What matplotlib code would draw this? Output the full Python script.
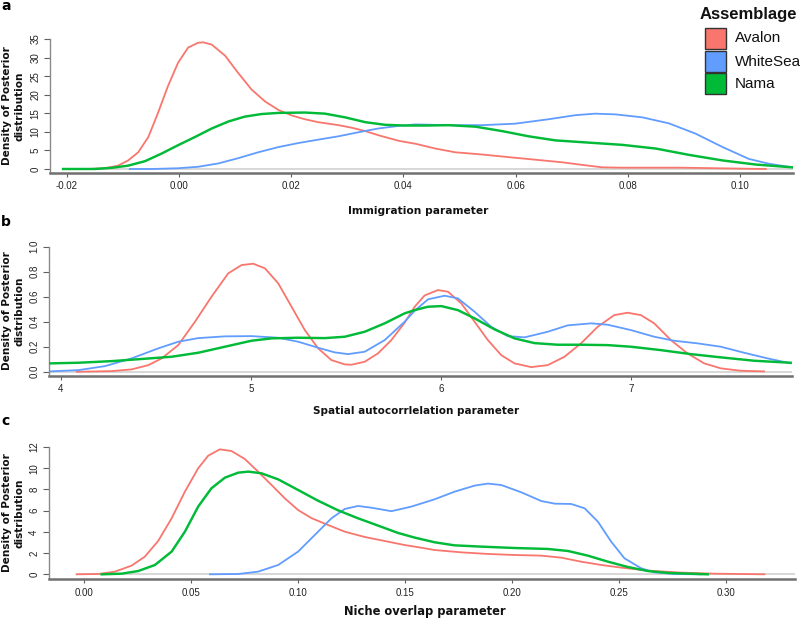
import matplotlib
matplotlib.use('Agg')
import matplotlib.pyplot as plt
from matplotlib.patches import Rectangle

# ---------------- data ----------------
groups = ['Avalon', 'WhiteSea', 'Nama']
group_colors = ['#F8766D', '#619CFF', '#00BA38']

# Panel a: Immigration parameter
a_avalon_x = [-0.0163, -0.0133, -0.0109, -0.0091, -0.0073, -0.0055, -0.0038, -0.0020, -0.0002, 0.0016,
              0.0034, 0.0043, 0.0058, 0.0082, 0.0105, 0.0129, 0.0153, 0.0177, 0.0201, 0.0224,
              0.0248, 0.0284, 0.0308, 0.0332, 0.0355, 0.0391, 0.0421, 0.0457, 0.0492, 0.0540,
              0.0587, 0.0635, 0.0683, 0.0719, 0.0754, 0.0790, 0.0838, 0.0897, 0.0957, 0.1046]
a_avalon_y = [0.0, 0.2, 0.9, 2.3, 4.5, 8.6, 15.0, 22.3, 28.6, 32.7,
              34.0, 34.1, 33.5, 30.5, 25.9, 21.4, 18.2, 15.9, 14.4, 13.4,
              12.6, 11.8, 11.1, 10.2, 9.1, 7.6, 6.8, 5.5, 4.5, 3.9,
              3.2, 2.5, 1.8, 1.1, 0.45, 0.35, 0.35, 0.35, 0.2, 0.0]
a_whitesea_x = [-0.0088, -0.0049, -0.0002, 0.0034, 0.0070, 0.0105, 0.0141, 0.0177, 0.0213, 0.0248,
                0.0284, 0.0320, 0.0355, 0.0391, 0.0421, 0.0480, 0.0540, 0.0599, 0.0659, 0.0707,
                0.0742, 0.0778, 0.0826, 0.0873, 0.0921, 0.0969, 0.1016, 0.1052, 0.1093]
a_whitesea_y = [0.0, 0.0, 0.2, 0.6, 1.5, 2.9, 4.5, 5.9, 7.0, 7.9,
                8.8, 9.9, 10.9, 11.6, 12.0, 11.8, 11.8, 12.2, 13.4, 14.5,
                14.9, 14.7, 13.9, 12.3, 9.5, 5.9, 2.7, 1.4, 0.45]
a_nama_x = [-0.0207, -0.0151, -0.0121, -0.0091, -0.0061, -0.0032, -0.0002, 0.0028, 0.0058, 0.0088,
            0.0117, 0.0147, 0.0177, 0.0224, 0.0260, 0.0296, 0.0332, 0.0367, 0.0403, 0.0440,
            0.0480, 0.0528, 0.0576, 0.0623, 0.0671, 0.0730, 0.0790, 0.0850, 0.0909, 0.0969,
            0.1028, 0.1093]
a_nama_y = [0.0, 0.0, 0.3, 0.9, 2.1, 4.1, 6.4, 8.6, 10.9, 12.8,
            14.1, 14.8, 15.1, 15.2, 14.9, 13.9, 12.6, 11.9, 11.7, 11.7,
            11.8, 11.4, 10.2, 8.8, 7.7, 7.1, 6.5, 5.5, 3.8, 2.3,
            1.2, 0.45]

# Panel b: Spatial autocorrelation parameter
b_avalon_x = [4.084, 4.268, 4.373, 4.461, 4.531, 4.618, 4.706, 4.793, 4.881, 4.951,
              5.012, 5.074, 5.144, 5.214, 5.284, 5.354, 5.424, 5.494, 5.529, 5.599,
              5.669, 5.739, 5.809, 5.862, 5.914, 5.984, 6.037, 6.107, 6.177, 6.247,
              6.317, 6.387, 6.475, 6.562, 6.650, 6.737, 6.825, 6.912, 6.982, 7.052,
              7.122, 7.210, 7.297, 7.385, 7.473, 7.578, 7.700]
b_avalon_y = [0.0, 0.005, 0.019, 0.053, 0.107, 0.213, 0.40, 0.60, 0.787, 0.853,
              0.864, 0.827, 0.707, 0.52, 0.333, 0.187, 0.093, 0.059, 0.056, 0.08,
              0.147, 0.253, 0.392, 0.52, 0.61, 0.653, 0.64, 0.547, 0.40, 0.253,
              0.133, 0.067, 0.037, 0.053, 0.12, 0.227, 0.36, 0.453, 0.472, 0.453,
              0.387, 0.253, 0.147, 0.067, 0.027, 0.008, 0.003]
b_whitesea_x = [3.944, 4.093, 4.233, 4.373, 4.513, 4.618, 4.723, 4.863, 5.003, 5.144,
                5.249, 5.354, 5.441, 5.511, 5.599, 5.704, 5.809, 5.862, 5.932, 6.019,
                6.089, 6.177, 6.264, 6.352, 6.440, 6.562, 6.667, 6.790, 6.877, 7.000,
                7.122, 7.227, 7.350, 7.473, 7.595, 7.718, 7.840]
b_whitesea_y = [0.003, 0.013, 0.045, 0.107, 0.187, 0.24, 0.269, 0.283, 0.285, 0.272,
                0.24, 0.192, 0.155, 0.141, 0.16, 0.253, 0.40, 0.488, 0.579, 0.608,
                0.587, 0.48, 0.36, 0.285, 0.275, 0.32, 0.371, 0.387, 0.376, 0.333,
                0.28, 0.248, 0.227, 0.20, 0.152, 0.107, 0.067]
b_nama_x = [3.944, 4.093, 4.268, 4.443, 4.583, 4.723, 4.863, 5.003, 5.109, 5.249,
            5.389, 5.494, 5.599, 5.704, 5.809, 5.862, 5.932, 6.002, 6.089, 6.177,
            6.282, 6.387, 6.492, 6.615, 6.737, 6.877, 7.000, 7.157, 7.315, 7.473,
            7.648, 7.840]
b_nama_y = [0.067, 0.072, 0.085, 0.104, 0.12, 0.152, 0.20, 0.248, 0.267, 0.272,
            0.269, 0.28, 0.32, 0.387, 0.467, 0.493, 0.52, 0.525, 0.493, 0.427,
            0.339, 0.267, 0.229, 0.216, 0.216, 0.213, 0.20, 0.173, 0.141, 0.115,
            0.088, 0.072]

# Panel c: Niche overlap parameter
c_avalon_x = [-0.0036, 0.0065, 0.0143, 0.0221, 0.0283, 0.0345, 0.0408, 0.0470, 0.0532, 0.0579,
              0.0633, 0.0688, 0.0750, 0.0812, 0.0875, 0.0937, 0.0999, 0.1061, 0.1139, 0.1217,
              0.1310, 0.1404, 0.1497, 0.1544, 0.1637, 0.1762, 0.1886, 0.2010, 0.2135, 0.2229,
              0.2322, 0.2416, 0.2509, 0.2634, 0.2790, 0.2944, 0.3178]
c_avalon_y = [0.0, 0.03, 0.25, 0.82, 1.67, 3.14, 5.28, 7.79, 9.99, 11.18,
              11.78, 11.62, 10.87, 9.68, 8.42, 7.16, 6.06, 5.3, 4.65, 4.02,
              3.52, 3.14, 2.76, 2.61, 2.29, 2.07, 1.92, 1.82, 1.76, 1.57,
              1.19, 0.88, 0.63, 0.35, 0.16, 0.06, 0.0]
c_whitesea_x = [0.0587, 0.0719, 0.0812, 0.0906, 0.0999, 0.1077, 0.1155, 0.1217, 0.1279, 0.1341,
                0.1435, 0.1528, 0.1637, 0.1730, 0.1824, 0.1886, 0.1948, 0.2042, 0.2135, 0.2198,
                0.2275, 0.2338, 0.2400, 0.2462, 0.2524, 0.2602, 0.2664, 0.2758, 0.2882]
c_whitesea_y = [0.0, 0.03, 0.25, 0.88, 2.14, 3.71, 5.28, 6.16, 6.44, 6.28,
                5.95, 6.38, 7.07, 7.79, 8.36, 8.55, 8.42, 7.73, 6.91, 6.66,
                6.63, 6.22, 4.96, 3.08, 1.51, 0.57, 0.19, 0.03, 0.0]
c_nama_x = [0.0081, 0.0174, 0.0252, 0.0330, 0.0408, 0.0470, 0.0532, 0.0594, 0.0657, 0.0719,
            0.0766, 0.0828, 0.0906, 0.0999, 0.1092, 0.1186, 0.1279, 0.1373, 0.1466, 0.1544,
            0.1637, 0.1730, 0.1855, 0.2010, 0.2166, 0.2260, 0.2353, 0.2447, 0.2540, 0.2633,
            0.2727, 0.2913]
c_nama_y = [0.0, 0.06, 0.31, 0.88, 2.14, 4.02, 6.38, 8.11, 9.11, 9.58,
            9.68, 9.52, 8.95, 7.95, 6.94, 6.03, 5.28, 4.59, 3.90, 3.46,
            3.02, 2.73, 2.61, 2.48, 2.39, 2.20, 1.76, 1.19, 0.69, 0.31,
            0.13, 0.0]

a_xticks = [-0.02, 0.00, 0.02, 0.04, 0.06, 0.08, 0.10]
a_xticklabels = ['-0.02', '0.00', '0.02', '0.04', '0.06', '0.08', '0.10']
a_yticks = [0, 5, 10, 15, 20, 25, 30, 35]
a_yticklabels = ['0', '5', '10', '15', '20', '25', '30', '35']
b_xticks = [4, 5, 6, 7]
b_xticklabels = ['4', '5', '6', '7']
b_yticks = [0.0, 0.2, 0.4, 0.6, 0.8, 1.0]
b_yticklabels = ['0.0', '0.2', '0.4', '0.6', '0.8', '1.0']
c_xticks = [0.00, 0.05, 0.10, 0.15, 0.20, 0.25, 0.30]
c_xticklabels = ['0.00', '0.05', '0.10', '0.15', '0.20', '0.25', '0.30']
c_yticks = [0, 2, 4, 6, 8, 10, 12]
c_yticklabels = ['0', '2', '4', '6', '8', '10', '12']

a_xlabel = 'Immigration parameter'
b_xlabel = 'Spatial autocorrlelation parameter'
c_xlabel = 'Niche overlap parameter'
ylabel_text = 'Density of Posterior\ndistribution'
legend_title = 'Assemblage'

# ---------------- figure ----------------
W, H = 800, 620
fig = plt.figure(figsize=(W / 100, H / 100), dpi=100)
fig.patch.set_facecolor('white')


def px_axes(left, top, right, bottom):
    return fig.add_axes([left / W, 1 - bottom / H, (right - left) / W, (bottom - top) / H])


TICKFONT = ['Liberation Sans', 'DejaVu Sans']
BOLDFONT = ['DejaVu Sans']


def style(ax, xlim, ylim, xt, xtl, yt, ytl):
    ax.set_xlim(xlim)
    ax.set_ylim(ylim)
    ax.set_facecolor('white')
    for s in ['top', 'right']:
        ax.spines[s].set_visible(False)
    ax.spines['left'].set_color('#8a8a8a')
    ax.spines['left'].set_linewidth(1.0)
    ax.spines['bottom'].set_color('#707070')
    ax.spines['bottom'].set_linewidth(1.8)
    ax.set_xticks(xt)
    ax.set_xticklabels(xtl, fontsize=7, family=TICKFONT, color='#222222')
    ax.set_yticks(yt)
    ax.set_yticklabels(ytl, fontsize=7, family=TICKFONT, color='#222222',
                       rotation=90, va='center')
    ax.tick_params(axis='x', length=3, width=0.8, color='#606060', pad=3)
    ax.tick_params(axis='y', length=4, width=0.8, color='#606060', pad=3)


def draw(ax, series):
    xmin = min(min(s[0]) for s in series)
    ax.plot([xmin, ax.get_xlim()[1]], [0, 0], color='#d4d4d4', lw=1.3, zorder=1,
            solid_capstyle='butt')
    for (xs, ys), col, g in zip(series, group_colors, groups):
        lw = 1.75 if g == 'Nama' else 1.3
        ax.plot(xs, ys, color=col, lw=lw, zorder=3 if g == 'Nama' else 2,
                solid_joinstyle='round')


ax_a = px_axes(50, 39, 793, 173)
style(ax_a, (-0.02303, 0.10945), (-1.08, 35), a_xticks, a_xticklabels, a_yticks, a_yticklabels)
draw(ax_a, [(a_avalon_x, a_avalon_y), (a_whitesea_x, a_whitesea_y), (a_nama_x, a_nama_y)])

ax_b = px_axes(49, 246.7, 792, 376)
style(ax_b, (3.938, 7.847), (-0.034, 1.0), b_xticks, b_xticklabels, b_yticks, b_yticklabels)
draw(ax_b, [(b_avalon_x, b_avalon_y), (b_whitesea_x, b_whitesea_y), (b_nama_x, b_nama_y)])

ax_c = px_axes(49, 447, 795, 579.3)
style(ax_c, (-0.0165, 0.3321), (-0.47, 12), c_xticks, c_xticklabels, c_yticks, c_yticklabels)
draw(ax_c, [(c_avalon_x, c_avalon_y), (c_whitesea_x, c_whitesea_y), (c_nama_x, c_nama_y)])


def ftext(x, y, s, **kw):
    fig.text(x / W, 1 - y / H, s, **kw)


# x labels
ftext(418, 211, a_xlabel, fontsize=7.7, fontweight='bold', family=BOLDFONT, ha='center', va='center', color='#111111')
ftext(416, 411, b_xlabel, fontsize=7.5, fontweight='bold', family=BOLDFONT, ha='center', va='center', color='#111111')
ftext(425, 612, c_xlabel, fontsize=8.3, fontweight='bold', family=BOLDFONT, ha='center', va='center', color='#111111')

# y labels
for yc in [106, 311, 513]:
    ftext(13, yc, ylabel_text, fontsize=7.6, fontweight='bold', family=BOLDFONT, rotation=90,
          ha='center', va='center', multialignment='center', color='#111111', linespacing=1.3)

# panel letters
ftext(1, 6, 'a', fontsize=10, fontweight='bold', family=BOLDFONT, ha='left', va='center')
ftext(1, 222, 'b', fontsize=10, fontweight='bold', family=BOLDFONT, ha='left', va='center')
ftext(1, 421, 'c', fontsize=10, fontweight='bold', family=BOLDFONT, ha='left', va='center')

# legend
ftext(748, 14, legend_title, fontsize=12, fontweight='bold', family=['Liberation Sans', 'DejaVu Sans'],
      ha='center', va='center', color='#111111')
box_tops = [28, 51, 73]
for g, col, top in zip(groups, group_colors, box_tops):
    fig.add_artist(Rectangle((705 / W, 1 - (top + 21) / H), 21 / W, 21 / H,
                             transform=fig.transFigure, facecolor=col,
                             edgecolor='#333333', lw=1.0))
    ftext(735, top + 10.5, g, fontsize=11, family=['Liberation Sans', 'DejaVu Sans'],
          ha='left', va='center', color='#111111')

fig.savefig('out.png', dpi=100, facecolor='white')
